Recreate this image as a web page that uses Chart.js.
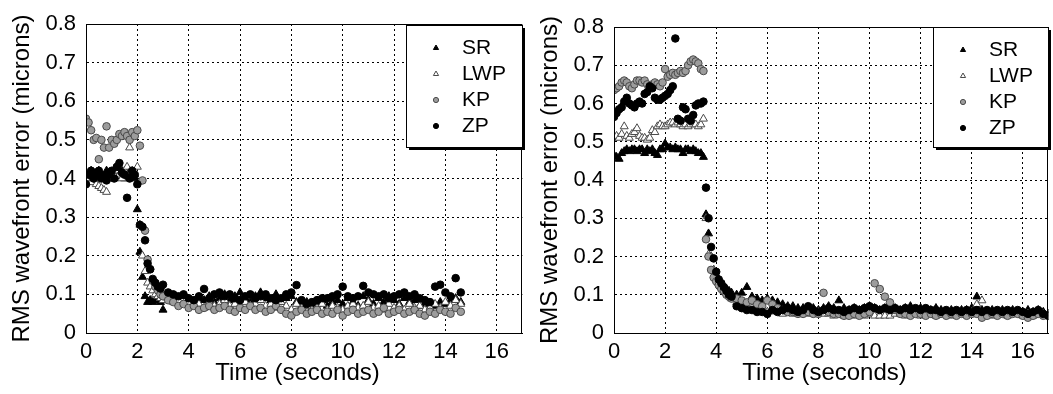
<!DOCTYPE html>
<html>
<head>
<meta charset="utf-8">
<title>RMS wavefront error vs time</title>
<script src="https://cdn.jsdelivr.net/npm/chart.js@4/dist/chart.umd.min.js"></script>
<style>
    html, body { margin: 0; padding: 0; background: #fff; overflow: hidden; }
    body { width: 1053px; height: 394px; position: relative; }
    canvas { position: absolute; top: 0; }
    #leftChart { left: 0; }
    #rightChart { left: 528px; }
</style>
</head>
<body>
<canvas id="leftChart" width="528" height="394"></canvas>
<canvas id="rightChart" width="526" height="394"></canvas>
<script>
// ========== DATA ==========
const seriesNames = ['SR', 'LWP', 'KP', 'ZP'];
const xTicks = [0, 2, 4, 6, 8, 10, 12, 14, 16];
const yTicks = [0, 0.1, 0.2, 0.3, 0.4, 0.5, 0.6, 0.7, 0.8];
const yTickLabels = ['0', '0.1', '0.2', '0.3', '0.4', '0.5', '0.6', '0.7', '0.8'];

// left panel
const timeLeft = [
    0, 0.1, 0.2, 0.3, 0.4, 0.5, 0.6, 0.7, 0.8, 0.9,
    1.0, 1.1, 1.2, 1.3, 1.4, 1.5, 1.6, 1.7, 1.8, 1.9,
    2.0, 2.1, 2.2, 2.3, 2.4, 2.5, 2.6, 2.7, 2.8, 2.9,
    3.0,
    3.2, 3.4, 3.6, 3.8, 4.0, 4.2, 4.4, 4.6, 4.8, 5.0,
    5.2, 5.4, 5.6, 5.8, 6.0, 6.2, 6.4, 6.6, 6.8, 7.0,
    7.2, 7.4, 7.6, 7.8, 8.0, 8.2, 8.4, 8.6, 8.8, 9.0,
    9.2, 9.4, 9.6, 9.8, 10.0, 10.2, 10.4, 10.6, 10.8, 11.0,
    11.2, 11.4, 11.6, 11.8, 12.0, 12.2, 12.4, 12.6, 12.8, 13.0,
    13.2, 13.4, 13.6, 13.8, 14.0, 14.2, 14.4, 14.6
];
const srLeft = [
    0.41, 0.40, 0.42, 0.41, 0.40, 0.42, 0.41, 0.40, 0.42, 0.41,
    0.40, 0.42, 0.43, 0.41, 0.42, 0.40, 0.41, 0.42, 0.41, 0.40,
    0.32, 0.21, 0.145, 0.095, 0.08, 0.085, 0.08, 0.085, 0.09, 0.08,
    0.06,
    0.085, 0.09, 0.08, 0.095, 0.085, 0.075, 0.09, 0.085, 0.095, 0.08,
    0.09, 0.10, 0.085, 0.095, 0.105, 0.09, 0.08, 0.095, 0.105, 0.09,
    0.085, 0.10, 0.08, 0.09, 0.095, 0.08, 0.07, 0.08, 0.065, 0.075,
    0.085, 0.07, 0.08, 0.085, 0.075, 0.09, 0.08, 0.07, 0.095, 0.085,
    0.075, 0.09, 0.08, 0.095, 0.085, 0.075, 0.09, 0.08, 0.085, 0.07,
    0.075, 0.065, 0.07, 0.08, 0.075, 0.085, 0.09, 0.08
];
const lwpLeft = [
    0.40, 0.41, 0.39, 0.40, 0.385, 0.38, 0.375, 0.37, 0.365, 0.40,
    0.41, 0.40, 0.42, 0.41, 0.40, 0.42, 0.43, 0.48, 0.42, 0.41,
    0.43, 0.28, 0.20, 0.16, 0.13, 0.12, 0.11, 0.10, 0.095, 0.09,
    0.085,
    0.09, 0.08, 0.085, 0.075, 0.08, 0.07, 0.075, 0.065, 0.08, 0.07,
    0.075, 0.085, 0.07, 0.075, 0.065, 0.08, 0.07, 0.075, 0.085, 0.07,
    0.075, 0.065, 0.08, 0.07, 0.06, 0.075, 0.065, 0.07, 0.06, 0.065,
    0.075, 0.06, 0.07, 0.065, 0.06, 0.07, 0.075, 0.065, 0.07, 0.08,
    0.065, 0.07, 0.06, 0.075, 0.065, 0.07, 0.06, 0.075, 0.065, 0.07,
    0.06, 0.065, 0.075, 0.065, 0.08, 0.07, 0.085, 0.075
];
const kpLeft = [
    0.555, 0.545, 0.525, 0.50, 0.505, 0.45, 0.50, 0.48, 0.535, 0.48,
    0.50, 0.49, 0.50, 0.515, 0.51, 0.52, 0.51, 0.50, 0.52, 0.51,
    0.525, 0.485, 0.395, 0.265, 0.19, 0.165, 0.135, 0.12, 0.11, 0.10,
    0.095,
    0.085, 0.08, 0.07, 0.075, 0.065, 0.07, 0.06, 0.065, 0.07, 0.06,
    0.065, 0.07, 0.06, 0.055, 0.065, 0.06, 0.07, 0.06, 0.065, 0.055,
    0.06, 0.07, 0.06, 0.05, 0.045, 0.055, 0.06, 0.05, 0.055, 0.06,
    0.05, 0.055, 0.05, 0.06, 0.045, 0.055, 0.06, 0.05, 0.055, 0.06,
    0.05, 0.055, 0.065, 0.05, 0.055, 0.06, 0.05, 0.055, 0.06, 0.05,
    0.045, 0.055, 0.05, 0.06, 0.055, 0.05, 0.065, 0.055
];
const zpLeft = [
    0.385, 0.41, 0.42, 0.40, 0.415, 0.42, 0.40, 0.405, 0.395, 0.41,
    0.42, 0.40, 0.43, 0.44, 0.415, 0.41, 0.35, 0.40, 0.42, 0.41,
    0.385, 0.28, 0.275, 0.24, 0.18, 0.165, 0.14, 0.13, 0.12, 0.115,
    0.125,
    0.105, 0.10, 0.095, 0.10, 0.09, 0.085, 0.095, 0.114, 0.09, 0.10,
    0.105, 0.095, 0.10, 0.09, 0.085, 0.095, 0.10, 0.09, 0.095, 0.10,
    0.09, 0.085, 0.09, 0.10, 0.105, 0.124, 0.085, 0.075, 0.08, 0.085,
    0.09, 0.09, 0.095, 0.10, 0.12, 0.095, 0.09, 0.095, 0.122, 0.105,
    0.10, 0.095, 0.10, 0.09, 0.095, 0.10, 0.105, 0.095, 0.10, 0.09,
    0.085, 0.08, 0.12, 0.125, 0.105, 0.095, 0.142, 0.105
];

// right panel
const timeRight = [
    0, 0.1, 0.2, 0.3, 0.4, 0.5, 0.6, 0.7, 0.8, 0.9,
    1.0, 1.1, 1.2, 1.3, 1.4, 1.5, 1.6, 1.7, 1.8, 1.9,
    2.0, 2.1, 2.2, 2.3, 2.4, 2.5, 2.6, 2.7, 2.8, 2.9,
    3.0, 3.1, 3.2, 3.3, 3.4, 3.5, 3.6, 3.7, 3.8, 3.9,
    4.0, 4.1, 4.2, 4.3, 4.4, 4.5, 4.6,
    4.8, 5.0, 5.2, 5.4, 5.6, 5.8, 6.0, 6.2, 6.4, 6.6,
    6.8, 7.0, 7.2, 7.4, 7.6, 7.8, 8.0, 8.2, 8.4, 8.6,
    8.8, 9.0, 9.2, 9.4, 9.6, 9.8, 10.0, 10.2, 10.4, 10.6,
    10.8, 11.0, 11.2, 11.4, 11.6, 11.8, 12.0, 12.2, 12.4, 12.6,
    12.8, 13.0, 13.2, 13.4, 13.6, 13.8, 14.0, 14.2, 14.4, 14.6,
    14.8, 15.0, 15.2, 15.4, 15.6, 15.8, 16.0, 16.2, 16.4, 16.6,
    16.8, 17.0
];
const srRight = [
    0.465, 0.46, 0.455, 0.47, 0.475, 0.48, 0.475, 0.48, 0.48, 0.475,
    0.48, 0.48, 0.47, 0.48, 0.475, 0.48, 0.47, 0.465, 0.48, 0.48,
    0.495, 0.485, 0.485, 0.48, 0.485, 0.48, 0.48, 0.47, 0.48, 0.48,
    0.475, 0.48, 0.475, 0.47, 0.47, 0.46, 0.31, 0.26, 0.20, 0.165,
    0.15, 0.14, 0.13, 0.12, 0.115, 0.11, 0.105,
    0.10, 0.105, 0.12, 0.095, 0.09, 0.085, 0.09, 0.085, 0.08, 0.075,
    0.07, 0.07, 0.065, 0.065, 0.06, 0.065, 0.06, 0.065, 0.07, 0.065,
    0.085, 0.065, 0.06, 0.065, 0.06, 0.065, 0.07, 0.065, 0.06, 0.065,
    0.06, 0.065, 0.06, 0.065, 0.07, 0.06, 0.065, 0.06, 0.06, 0.065,
    0.06, 0.055, 0.06, 0.055, 0.06, 0.06, 0.065, 0.095, 0.06, 0.055,
    0.06, 0.055, 0.06, 0.055, 0.06, 0.055, 0.055, 0.06, 0.055, 0.06,
    0.055, 0.05
];
const lwpRight = [
    0.51, 0.515, 0.51, 0.52, 0.54, 0.515, 0.51, 0.52, 0.525, 0.535,
    0.515, 0.51, 0.51, 0.505, 0.51, 0.53, 0.525, 0.54, 0.545, 0.54,
    0.54, 0.545, 0.55, 0.55, 0.545, 0.55, 0.545, 0.54, 0.545, 0.54,
    0.545, 0.55, 0.545, 0.54, 0.545, 0.56, 0.30, 0.205, 0.20, 0.165,
    0.14, 0.13, 0.12, 0.11, 0.105, 0.10, 0.09,
    0.08, 0.075, 0.07, 0.065, 0.06, 0.06, 0.055, 0.06, 0.055, 0.05,
    0.055, 0.05, 0.05, 0.055, 0.05, 0.05, 0.055, 0.05, 0.05, 0.045,
    0.05, 0.045, 0.05, 0.045, 0.05, 0.045, 0.05, 0.045, 0.045, 0.045,
    0.045, 0.05, 0.05, 0.045, 0.05, 0.05, 0.045, 0.05, 0.05, 0.045,
    0.05, 0.05, 0.045, 0.05, 0.05, 0.05, 0.055, 0.075, 0.085, 0.05,
    0.045, 0.05, 0.05, 0.045, 0.05, 0.05, 0.045, 0.05, 0.045, 0.05,
    0.05, 0.045
];
const kpRight = [
    0.635, 0.64, 0.645, 0.655, 0.66, 0.655, 0.645, 0.64, 0.65, 0.66,
    0.66, 0.655, 0.66, 0.65, 0.645, 0.65, 0.655, 0.65, 0.645, 0.655,
    0.69, 0.67, 0.675, 0.68, 0.675, 0.68, 0.685, 0.68, 0.685, 0.70,
    0.71, 0.715, 0.71, 0.705, 0.69, 0.685, 0.245, 0.20, 0.165, 0.145,
    0.135, 0.125, 0.115, 0.11, 0.10, 0.095, 0.09,
    0.09, 0.085, 0.08, 0.085, 0.075, 0.07, 0.085, 0.075, 0.065, 0.06,
    0.055, 0.055, 0.05, 0.05, 0.055, 0.05, 0.05, 0.105, 0.055, 0.05,
    0.05, 0.045, 0.045, 0.05, 0.045, 0.05, 0.055, 0.13, 0.115, 0.095,
    0.08, 0.06, 0.05, 0.05, 0.045, 0.05, 0.05, 0.045, 0.05, 0.045,
    0.05, 0.045, 0.05, 0.045, 0.05, 0.045, 0.05, 0.05, 0.04, 0.045,
    0.05, 0.045, 0.05, 0.045, 0.05, 0.05, 0.045, 0.04, 0.045, 0.05,
    0.045, 0.045
];
const zpRight = [
    0.565, 0.575, 0.585, 0.59, 0.605, 0.615, 0.60, 0.595, 0.59, 0.60,
    0.605, 0.60, 0.625, 0.63, 0.645, 0.64, 0.615, 0.61, 0.61, 0.615,
    0.62, 0.625, 0.635, 0.645, 0.77, 0.56, 0.555, 0.59, 0.585, 0.56,
    0.555, 0.57, 0.595, 0.60, 0.60, 0.605, 0.38, 0.30, 0.225, 0.195,
    0.16, 0.14, 0.13, 0.12, 0.11, 0.10, 0.095,
    0.07, 0.065, 0.06, 0.06, 0.055, 0.055, 0.05, 0.06, 0.055, 0.06,
    0.065, 0.06, 0.055, 0.06, 0.07, 0.06, 0.055, 0.06, 0.065, 0.06,
    0.06, 0.055, 0.06, 0.065, 0.06, 0.065, 0.07, 0.065, 0.06, 0.065,
    0.06, 0.065, 0.06, 0.065, 0.06, 0.065, 0.06, 0.065, 0.06, 0.06,
    0.055, 0.06, 0.055, 0.06, 0.055, 0.06, 0.055, 0.06, 0.055, 0.06,
    0.055, 0.06, 0.055, 0.06, 0.055, 0.06, 0.055, 0.05, 0.055, 0.06,
    0.05, 0.045
];

// ========== STYLE ==========
const FONT = '"Liberation Sans", Arial, Helvetica, sans-serif';

const markerStyles = {
    SR:  { shape: 'triangle', radius: 4.6, fill: '#000000', line: '#000000' },
    LWP: { shape: 'triangle', radius: 4.6, fill: '#ffffff', line: '#4a4a4a' },
    KP:  { shape: 'circle',   radius: 3.8, fill: '#9c9c9c', line: '#4a4a4a' },
    ZP:  { shape: 'circle',   radius: 3.8, fill: '#000000', line: '#000000' }
};
// last plotted series sits on top (lower order = drawn later)
const drawOrder = { SR: 4, LWP: 3, KP: 2, ZP: 1 };

function toPoints(times, values) {
    return values.map((v, i) => ({ x: times[i], y: v }));
}

function buildDatasets(times, seriesValues) {
    return seriesNames.map((name, k) => {
        const st = markerStyles[name];
        return {
            label: name,
            data: toPoints(times, seriesValues[k]),
            pointStyle: st.shape,
            pointRadius: st.radius,
            pointHoverRadius: st.radius,
            backgroundColor: st.fill,
            borderColor: st.line,
            borderWidth: 1,
            showLine: false,
            order: drawOrder[name]
        };
    });
}

function drawMarker(ctx, shape, x, y, r, fill, line) {
    ctx.beginPath();
    if (shape === 'triangle') {
        ctx.moveTo(x, y - r);
        ctx.lineTo(x + r * 0.866, y + r * 0.5);
        ctx.lineTo(x - r * 0.866, y + r * 0.5);
        ctx.closePath();
    } else {
        ctx.arc(x, y, r, 0, Math.PI * 2);
    }
    ctx.fillStyle = fill;
    ctx.fill();
    ctx.strokeStyle = line;
    ctx.lineWidth = 1;
    ctx.stroke();
}

// axes box + MATLAB style legend with shadow
const frameAndLegend = {
    id: 'frameAndLegend',
    afterDraw(chart, args, opts) {
        const ctx = chart.ctx;
        const a = chart.chartArea;
        ctx.save();
        ctx.strokeStyle = '#000';
        ctx.lineWidth = 1;
        ctx.strokeRect(Math.round(a.left) + 0.5, Math.round(a.top) + 0.5,
            Math.round(a.right - a.left) - 1, Math.round(a.bottom - a.top));

        const b = opts.box;
        ctx.fillStyle = '#000';
        ctx.fillRect(b.x + 3, b.y + 3, b.w, b.h);
        ctx.fillStyle = '#fff';
        ctx.fillRect(b.x, b.y, b.w, b.h);
        ctx.strokeStyle = '#000';
        ctx.strokeRect(b.x + 0.5, b.y + 0.5, b.w, b.h);

        ctx.font = '21px ' + FONT;
        ctx.textBaseline = 'middle';
        ctx.textAlign = 'left';
        seriesNames.forEach((name, i) => {
            const st = markerStyles[name];
            const y = b.y + 23 + i * 26;
            const r = st.shape === 'triangle' ? 3 : 2.6;
            drawMarker(ctx, st.shape, b.x + 30, y, r, st.fill, st.line);
            ctx.fillStyle = '#000';
            ctx.fillText(name, b.x + 56, y);
        });
        ctx.restore();
    }
};

function makeChart(canvasId, datasets, pad, legendBox) {
    return new Chart(document.getElementById(canvasId), {
        type: 'scatter',
        data: { datasets: datasets },
        options: {
            responsive: false,
            animation: false,
            events: [],
            layout: { padding: pad },
            plugins: {
                legend: { display: false },
                tooltip: { enabled: false },
                frameAndLegend: { box: legendBox }
            },
            scales: {
                x: {
                    type: 'linear',
                    min: 0,
                    max: 17,
                    afterBuildTicks: s => { s.ticks = xTicks.map(v => ({ value: v })); },
                    afterFit: s => { s.height = 61; },
                    ticks: {
                        color: '#000',
                        font: { family: FONT, size: 22 },
                        padding: 6,
                        maxRotation: 0,
                        autoSkip: false,
                        callback: v => String(v)
                    },
                    grid: { color: '#000', lineWidth: 1, drawTicks: false },
                    border: { color: '#000', dash: [2, 3] },
                    title: {
                        display: true,
                        // trailing spaces nudge the centred title left like the original
                        text: 'Time (seconds)  ',
                        color: '#000',
                        font: { family: FONT, size: 24 },
                        padding: { top: 0, bottom: 6 }
                    }
                },
                y: {
                    type: 'linear',
                    min: 0,
                    max: 0.8,
                    afterBuildTicks: s => { s.ticks = yTicks.map(v => ({ value: v })); },
                    afterFit: s => { s.width = 86; },
                    ticks: {
                        color: '#000',
                        font: { family: FONT, size: 22 },
                        padding: 10,
                        autoSkip: false,
                        callback: (v, i) => yTickLabels[i]
                    },
                    grid: { color: '#000', lineWidth: 1, drawTicks: false },
                    border: { color: '#000', dash: [2, 3] },
                    title: {
                        display: true,
                        text: 'RMS wavefront error (microns)',
                        color: '#000',
                        font: { family: FONT, size: 24 },
                        padding: { top: 8, bottom: 0 }
                    }
                }
            }
        },
        plugins: [frameAndLegend]
    });
}

document.addEventListener('DOMContentLoaded', function() {
    makeChart('leftChart',
        buildDatasets(timeLeft, [srLeft, lwpLeft, kpLeft, zpLeft]),
        { top: 24, right: 2, bottom: 0, left: 0 },
        { x: 406, y: 25, w: 116, h: 122 });
    makeChart('rightChart',
        buildDatasets(timeRight, [srRight, lwpRight, kpRight, zpRight]),
        { top: 27, right: 0, bottom: 0, left: 0 },
        { x: 405, y: 27, w: 115, h: 120 });
});
</script>
</body>
</html>
